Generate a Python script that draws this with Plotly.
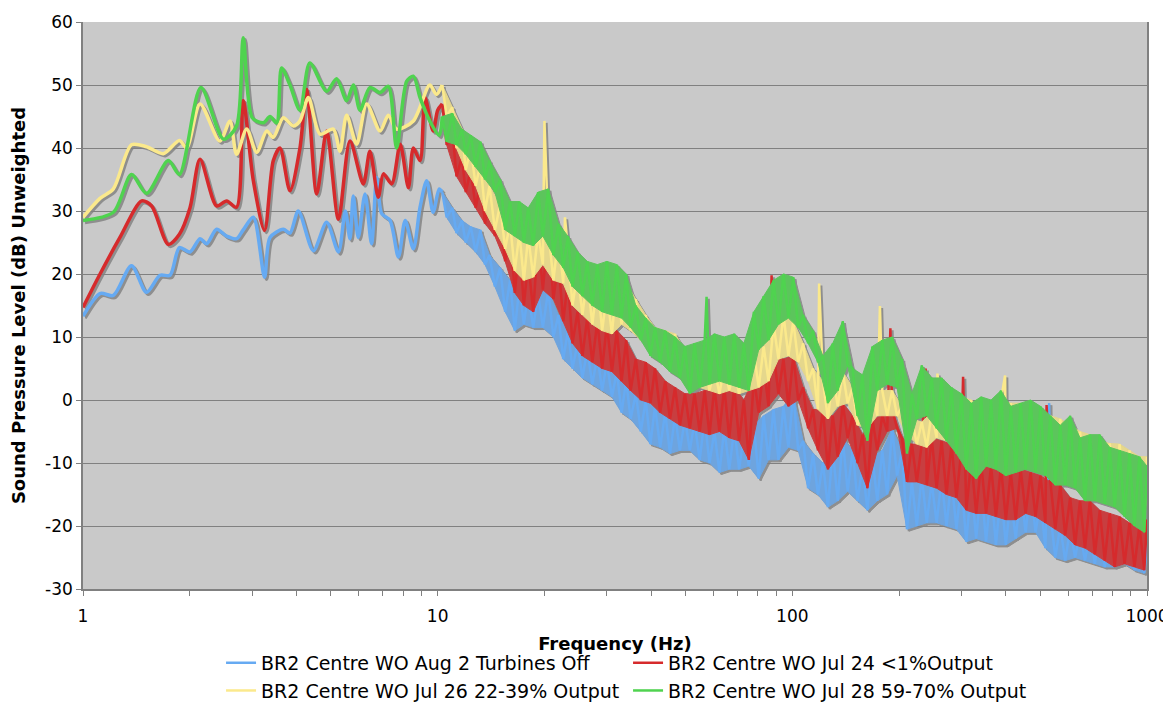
import plotly.graph_objects as go

# ---------------- data ----------------
SERIES_NAMES = [
    "BR2 Centre WO Aug 2 Turbines Off",
    "BR2 Centre WO Jul 24 <1%Output",
    "BR2 Centre WO Jul 26 22-39% Output",
    "BR2 Centre WO Jul 28 59-70% Output",
]

# low-frequency (smooth) part, 1-10 Hz
BLUE_LOW_F = [1.0, 1.117, 1.218, 1.37, 1.51, 1.649, 1.759, 1.87, 2.003, 2.138, 2.232, 2.381,
              2.542, 2.71, 2.83, 3.022, 3.25, 3.367, 3.671, 3.833, 4.047, 4.461, 4.864, 5.25,
              5.49, 5.66, 5.782, 5.97, 6.24, 6.51, 6.73, 6.95, 7.34, 7.75, 8.10, 8.54, 8.92,
              9.31, 9.71, 10.1]
BLUE_LOW = [13.3, 16.9, 16.6, 21.3, 17.1, 19.8, 19.8, 24.2, 23.5, 25.6, 24.8, 27.1,
            26.0, 25.6, 27.0, 29.0, 19.5, 25.8, 27.1, 26.5, 30.0, 23.7, 28.2, 23.5,
            30.0, 25.6, 32.4, 25.8, 32.7, 24.8, 35.3, 29.6, 28.5, 22.7, 28.5, 24.0, 30.6,
            34.8, 29.8, 33.5]

RED_LOW_F = [1.0, 1.117, 1.271, 1.464, 1.562, 1.74, 1.87, 2.003, 2.138, 2.381, 2.542, 2.71,
             2.83, 3.022, 3.25, 3.44, 3.593, 3.833, 4.09, 4.273, 4.559, 4.864, 5.25, 5.66,
             6.17, 6.44, 6.80, 7.03, 7.42, 7.84, 8.27, 8.54, 8.92, 9.21, 9.71, 10.0]
RED_LOW = [14.7, 20.0, 25.8, 31.6, 30.8, 24.7, 26.3, 30.5, 38.2, 30.8, 31.6, 30.6,
           47.5, 34.8, 26.9, 38.0, 40.0, 33.2, 40.0, 49.3, 32.7, 42.7, 28.7, 41.1,
           34.3, 39.5, 32.2, 35.9, 34.3, 40.6, 33.7, 40.0, 38.0, 48.0, 42.7, 46.0]

YELLOW_LOW_F = [1.0, 1.117, 1.218, 1.37, 1.51, 1.684, 1.87, 1.96, 2.138, 2.43, 2.597, 2.71,
                2.894, 3.088, 3.295, 3.44, 3.671, 3.917, 4.09, 4.32, 4.659, 5.079, 5.303,
                5.538, 5.91, 6.306, 6.88, 7.26, 7.66, 8.54, 9.50, 9.92]
YELLOW_LOW = [29.0, 32.0, 33.5, 40.5, 40.2, 39.1, 41.2, 40.0, 47.0, 41.1, 44.3, 39.0,
              43.0, 39.3, 42.7, 41.7, 44.8, 43.5, 44.3, 48.0, 42.2, 43.0, 39.5,
              45.2, 40.6, 47.0, 42.7, 45.2, 43.0, 44.3, 50.0, 48.5]

GREEN_LOW_F = [1.0, 1.218, 1.37, 1.51, 1.74, 1.87, 2.15, 2.49, 2.71, 2.83, 3.0, 3.225,
               3.367, 3.516, 3.63, 3.833, 4.09, 4.36, 4.864, 5.19, 5.538, 5.782, 6.04,
               6.44, 6.88, 7.26, 7.66, 8.18, 8.54, 8.92, 9.50, 10.1]
GREEN_LOW = [28.5, 29.8, 35.8, 32.8, 38.0, 35.8, 49.6, 41.4, 43.5, 57.5, 44.8, 44.0,
             45.0, 44.0, 52.7, 50.0, 46.0, 53.5, 49.0, 51.0, 47.5, 50.0, 46.0,
             49.6, 48.8, 49.8, 40.0, 50.6, 51.4, 48.0, 44.3, 42.0]

# noisy part (10-1000 Hz), shared frequency bins; values alternate peak / trough
NOISE_F = [
    10.3, 10.6, 11.0, 11.3, 11.7, 12.0, 12.4, 12.8, 13.2, 13.6,
    14.0, 14.5, 15.0, 15.5, 16.0, 16.5, 17.0, 17.5, 18.0, 18.6,
    19.2, 19.8, 20.5, 21.2, 21.9, 22.6, 23.3, 24.0, 24.8, 25.6,
    26.4, 27.3, 28.2, 29.1, 30.0, 31.0, 32.0, 33.0, 34.0, 35.0,
    36.2, 37.4, 38.6, 39.8, 41.0, 42.4, 43.8, 45.2, 46.7, 48.2,
    49.8, 51.4, 53.0, 54.8, 56.6, 58.4, 60.3, 62.3, 64.3, 66.4,
    68.6, 70.8, 73.0, 75.4, 77.9, 80.4, 83.0, 85.7, 88.5, 91.4,
    94.4, 97.5, 100.6, 103.9, 107.3, 110.8, 114.4, 118.1, 122.0, 126.0,
    130.0, 134.3, 138.7, 143.2, 147.9, 152.7, 157.7, 162.8, 168.1, 173.6,
    179.3, 185.1, 191.2, 197.4, 203.8, 210.5, 217.3, 224.4, 231.7, 239.3,
    247.1, 255.2, 263.5, 272.1, 281.0, 290.2, 299.6, 309.4, 319.5, 329.9,
    340.7, 351.8, 363.3, 375.1, 387.4, 400.0, 413.0, 426.5, 440.4, 454.8,
    469.6, 485.0, 500.8, 517.1, 534.0, 551.4, 569.4, 588.0, 607.2, 627.0,
    647.4, 668.6, 690.4, 712.9, 736.2, 760.2, 785.0, 810.6, 837.1, 864.4,
    892.6, 921.8, 951.8, 982.9, 1000.0]

BLUE_NOISE = [
    33.0, 29.0, 30.5, 26.5, 28.5, 25.0, 27.5, 23.5, 27.0, 21.5,
    23.0, 18.0, 21.0, 14.0, 19.0, 11.0, 18.0, 12.0, 17.0, 11.5,
    17.0, 11.5, 17.4, 10.0, 13.5, 6.5, 11.0, 5.0, 9.0, 3.5,
    8.0, 2.5, 7.0, 1.5, 6.0, 0.5, 4.5, -2.0, 3.0, -3.0,
    1.0, -5.0, 0.0, -7.0, -1.0, -7.5, -2.0, -8.5, -2.5, -8.0,
    -3.0, -8.0, -3.5, -9.5, -3.0, -10.0, -5.0, -11.5, -4.5, -11.0,
    -4.5, -11.0, -5.5, -10.5, -4.0, -12.5, -2.5, -9.5, -1.5, -9.5,
    -1.0, -7.5, 1.0, -8.0, -6.5, -14.0, -8.5, -15.0, -10.0, -17.0,
    -8.0, -16.0, -6.0, -14.5, -8.0, -16.0, -10.5, -17.5, -9.0, -16.0,
    -8.0, -15.0, -4.5, -12.0, -8.0, -20.5, -13.0, -20.0, -12.0, -19.5,
    -13.0, -19.5, -12.5, -20.0, -12.5, -20.5, -13.0, -22.5, -13.5, -22.0,
    -13.5, -22.5, -14.0, -23.0, -14.5, -23.0, -15.5, -22.0, -14.5, -21.0,
    -13.5, -21.0, -16.0, -23.5, -18.0, -25.0, -20.0, -25.5, -20.5, -25.0,
    -21.0, -25.5, -21.0, -26.0, -21.0, -26.5, -22.0, -26.5, -22.0, -26.0,
    -23.0, -27.0, -23.5, -27.5, -23.0]

RED_NOISE = [
    47.0, 40.5, 43.0, 35.5, 38.5, 33.0, 36.5, 30.5, 34.5, 28.0,
    32.5, 26.0, 29.0, 22.0, 27.0, 17.0, 25.0, 15.0, 22.0, 14.0,
    26.0, 17.5, 27.0, 16.0, 22.0, 12.5, 19.0, 9.0, 14.0, 7.0,
    13.0, 6.0, 12.5, 5.0, 12.0, 4.5, 11.0, 3.0, 9.5, 1.5,
    6.5, 0.0, 6.0, -0.5, 5.0, -2.0, 3.0, -3.0, 2.0, -4.0,
    1.0, -4.5, 1.0, -5.0, 1.5, -5.5, 2.0, -5.0, 2.0, -6.0,
    2.0, -6.5, 0.0, -9.5, 3.5, -2.0, 5.5, -1.0, 7.5, 1.0,
    6.5, -1.0, 7.0, 0.0, 2.0, -4.5, -1.5, -8.0, -1.5, -11.0,
    -2.5, -9.0, -0.5, -6.0, -2.5, -10.0, -5.5, -14.0, -3.0, -8.0,
    -2.5, -5.0, -1.5, -4.5, -6.0, -13.0, -7.0, -13.0, -7.0, -13.5,
    -6.0, -14.0, -6.5, -15.0, -7.0, -15.5, -8.0, -17.5, -9.5, -18.0,
    -10.0, -18.0, -10.5, -18.5, -10.5, -19.0, -11.5, -19.0, -11.0, -18.0,
    -11.5, -18.5, -12.0, -19.5, -13.0, -20.5, -13.5, -21.5, -15.5, -23.0,
    -16.0, -23.5, -16.0, -24.5, -17.5, -25.5, -18.0, -26.5, -18.5, -26.0,
    -19.5, -26.5, -20.0, -27.0, -19.0]

YELLOW_NOISE = [
    50.0, 45.0, 46.5, 40.0, 43.0, 36.5, 40.0, 34.0, 37.5, 30.0,
    34.0, 27.0, 31.0, 24.0, 28.0, 20.5, 26.5, 19.0, 26.0, 19.5,
    26.5, 21.5, 27.0, 19.0, 26.0, 18.5, 24.0, 15.0, 20.5, 13.5,
    19.5, 12.0, 19.0, 11.0, 17.0, 10.5, 19.0, 12.0, 18.5, 11.0,
    16.0, 9.5, 13.5, 8.0, 11.5, 7.0, 11.0, 7.0, 10.5, 5.0,
    8.0, 3.0, 7.0, 2.0, 6.0, 1.5, 5.0, 1.0, 5.5, 1.5,
    5.0, 1.0, 5.5, 1.5, 7.5, 2.0, 8.5, 3.0, 12.0, 6.5,
    13.5, 7.0, 12.5, 6.0, 9.0, 3.0, 5.0, -1.5, 3.0, -3.0,
    4.0, -1.0, 4.5, -0.5, 2.0, -4.0, -0.5, -4.5, 1.5, -2.5,
    1.5, -2.5, 1.5, -2.5, -1.0, -5.5, -3.0, -7.0, -3.5, -7.5,
    -2.0, -6.0, -1.5, -6.5, -1.0, -6.0, 0.5, -3.0, 0.0, -8.0,
    -1.5, -8.5, -0.5, -9.0, 0.0, -9.5, -0.5, -9.0, -0.5, -10.0,
    -1.0, -10.0, -2.0, -11.0, -2.5, -12.0, -3.0, -12.5, -4.0, -13.0,
    -5.0, -14.0, -5.5, -14.5, -6.5, -15.0, -6.9, -15.5, -7.0, -16.0,
    -8.0, -17.5, -9.0, -18.5, -9.0]

GREEN_NOISE = [
    45.0, 41.0, 45.5, 40.5, 43.0, 39.0, 42.0, 37.0, 41.0, 35.0,
    38.0, 33.0, 35.0, 27.0, 31.5, 26.0, 31.5, 25.0, 30.5, 24.5,
    33.0, 26.0, 33.5, 23.0, 28.0, 21.0, 26.0, 18.0, 23.5, 16.5,
    22.0, 15.0, 21.5, 14.0, 22.0, 13.5, 21.5, 13.0, 20.0, 11.5,
    15.0, 9.5, 13.0, 7.0, 11.5, 6.0, 11.0, 4.5, 10.0, 3.5,
    8.5, 1.0, 9.0, 2.0, 9.5, 2.5, 10.5, 3.0, 10.0, 2.5,
    10.5, 2.0, 9.0, 1.5, 14.0, 8.0, 16.5, 9.5, 19.0, 12.0,
    20.0, 13.0, 19.5, 11.5, 13.5, 9.0, 11.0, 6.0, 7.0, -0.5,
    9.0, 1.5, 12.5, 5.5, 5.0, -2.5, 4.0, -6.5, 8.5, 1.5,
    9.5, 2.5, 10.0, 2.0, 6.5, -8.5, 1.0, -3.0, 5.5, -2.5,
    3.5, -4.5, 3.5, -6.5, 2.0, -8.5, 1.0, -11.0, -0.5, -12.5,
    0.5, -10.5, 0.0, -11.0, 1.5, -12.0, -1.0, -11.5, -0.5, -11.0,
    0.0, -11.5, -1.0, -12.0, -2.5, -13.5, -4.0, -13.5, -2.5, -14.0,
    -6.0, -16.0, -5.5, -16.0, -5.5, -16.5, -7.5, -17.0, -8.0, -18.5,
    -8.5, -20.0, -9.0, -21.0, -10.5]

# narrow spectral spikes
BLUE_SPIKE_F, BLUE_SPIKE = [530.0], [-0.5]
RED_SPIKE_F, RED_SPIKE = [87.4, 189.0, 237.6, 303.0, 521.0], [19.8, 11.4, 5.0, 3.7, -0.8]
YELLOW_SPIKE_F, YELLOW_SPIKE = [20.0, 22.85, 119.0, 176.6, 256.5, 398.0], [44.3, 29.0, 18.5, 14.9, 4.2, 3.9]
GREEN_SPIKE_F, GREEN_SPIKE = [57.3], [16.4]

COLORS = ["#66aaf2", "#d62a2c", "#fbe98c", "#4fd34f"]
BAND_COLORS = ["#6ea4de", "#c83e40", "#e5d78c", "#5cc55c"]   # colour + a little drop-shadow
SHADOW = "#8e8e8e"
PLOT_BG = "#c9c9c9"

X_TICK_VALS = [m * 10 ** d for d in range(3) for m in range(1, 10)] + [1000]
X_TICK_TEXT = [str(v) if v in (1, 10, 100, 1000) else "" for v in X_TICK_VALS]
Y_TICK_VALS = [-30, -20, -10, 0, 10, 20, 30, 40, 50, 60]
Y_TICK_TEXT = [str(v) for v in Y_TICK_VALS]

X_RANGE = [0, 3]
Y_RANGE = [-30, 60]

# ---------------- figure ----------------
FONT = "DejaVu Sans"
fig = go.Figure()

series = [
    (BLUE_LOW_F, BLUE_LOW, BLUE_NOISE, BLUE_SPIKE_F, BLUE_SPIKE),
    (RED_LOW_F, RED_LOW, RED_NOISE, RED_SPIKE_F, RED_SPIKE),
    (YELLOW_LOW_F, YELLOW_LOW, YELLOW_NOISE, YELLOW_SPIKE_F, YELLOW_SPIKE),
    (GREEN_LOW_F, GREEN_LOW, GREEN_NOISE, GREEN_SPIKE_F, GREEN_SPIKE),
]


def add_series(name, color, band_color, data, xa, ya, legend):
    lf, lv, nv, sf, sv = data
    pts = sorted(list(zip(NOISE_F, nv)) + list(zip(sf, sv)))
    peaks = [(f, v) for i, (f, v) in enumerate(zip(NOISE_F, nv)) if i % 2 == 0]
    troughs = [(f, v) for i, (f, v) in enumerate(zip(NOISE_F, nv)) if i % 2 == 1]
    band = peaks + troughs[::-1]
    # band between the peaks and troughs of the noisy spectrum
    fig.add_trace(go.Scatter(
        x=[p[0] for p in band], y=[p[1] for p in band], mode="lines", fill="toself",
        fillcolor=band_color, line=dict(color=band_color, width=1), xaxis=xa, yaxis=ya,
        legendgroup=name, showlegend=False, hoverinfo="skip"))
    # smooth low-frequency part
    fig.add_trace(go.Scatter(
        x=lf + [NOISE_F[0]], y=lv + [nv[0]], mode="lines",
        line=dict(color=color, width=3.5, shape="spline", smoothing=0.8),
        xaxis=xa, yaxis=ya, legendgroup=name, showlegend=False, hoverinfo="skip"))
    # noisy part with spikes
    fig.add_trace(go.Scatter(
        x=[p[0] for p in pts], y=[p[1] for p in pts], mode="lines", name=name,
        line=dict(color=color, width=2.5), xaxis=xa, yaxis=ya,
        legendgroup=name, showlegend=legend))


# drop shadows (subplot x/y, shifted 2 px right and down, drawn first)
for name, data in zip(SERIES_NAMES, series):
    add_series(name, SHADOW, SHADOW, data, "x", "y", False)
# the series themselves (subplot x2/y2, carries the visible axes)
for name, color, band_color, data in zip(SERIES_NAMES, COLORS, BAND_COLORS, series):
    add_series(name, color, band_color, data, "x2", "y2", True)

# page has an 8 px body margin: figure sized/margined so the plot lands at 83..1147 x 22..589
FIG_W, FIG_H = 1163, 717
M_L, M_T = 75, 14
AREA_W, AREA_H = 1066, 569      # main plot 1064 x 567 + 2 px shadow offset
M_R = FIG_W - M_L - AREA_W
M_B = FIG_H - M_T - AREA_H
SH = 2.0
main_xd = [0, (AREA_W - SH) / AREA_W]
main_yd = [SH / AREA_H, 1]
shad_xd = [SH / AREA_W, 1]
shad_yd = [0, (AREA_H - SH) / AREA_H]

fig.update_layout(
    width=FIG_W, height=FIG_H,
    paper_bgcolor="white", plot_bgcolor="rgba(0,0,0,0)",
    margin=dict(l=M_L, r=M_R, t=M_T, b=M_B),
    font=dict(family=FONT, size=16, color="black"),
    showlegend=True,
    shapes=[dict(type="rect", xref="paper", yref="paper", x0=main_xd[0], x1=main_xd[1],
                 y0=main_yd[0], y1=main_yd[1], fillcolor=PLOT_BG, line=dict(width=0),
                 layer="below")],
    legend=dict(orientation="h", x=0.1295, xanchor="left", y=-0.093, yanchor="top",
                font=dict(size=19), entrywidth=362, entrywidthmode="pixels",
                tracegroupgap=0, itemwidth=30, bgcolor="rgba(0,0,0,0)"),
    xaxis=dict(type="log", range=X_RANGE, domain=shad_xd, anchor="y",
               visible=False, showgrid=False, zeroline=False),
    yaxis=dict(range=Y_RANGE, domain=shad_yd, anchor="x",
               visible=False, showgrid=False, zeroline=False),
    xaxis2=dict(type="log", range=X_RANGE, domain=main_xd, anchor="y2",
                tickvals=X_TICK_VALS, ticktext=X_TICK_TEXT,
                ticks="outside", ticklen=5, tickcolor="#808080", showgrid=False,
                showline=True, linecolor="#808080", linewidth=1.5, zeroline=False,
                automargin=False, ticklabelstandoff=6, tickfont=dict(size=17),
                title=dict(text="<b>Frequency (Hz)</b>", font=dict(size=18), standoff=12)),
    yaxis2=dict(range=Y_RANGE, domain=main_yd, anchor="x2",
                tickvals=Y_TICK_VALS, ticktext=Y_TICK_TEXT, ticks="outside",
                ticklen=5, tickcolor="#808080", showgrid=True, gridcolor="#808080",
                gridwidth=1, showline=True, linecolor="#808080", linewidth=1.5,
                mirror=True, zeroline=False, automargin=False,
                tickfont=dict(size=17), ticklabelstandoff=0,
                title=dict(text="<b>Sound Pressure Level (dB) Unweighted</b>",
                           font=dict(size=18), standoff=15)),
)

fig.write_html("out.html")
